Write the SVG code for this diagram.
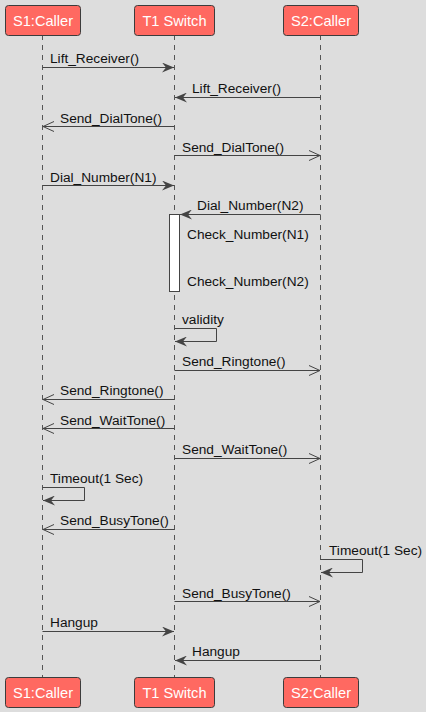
<svg xmlns="http://www.w3.org/2000/svg" width="426" height="712" viewBox="0 0 426 712">
<style>
.bg{fill:#dddddd}
.part rect{fill:#ff6961;stroke:#3c3c3c;stroke-width:1}
.part text{font-family:"Liberation Sans",Arial,sans-serif;font-size:14.6px;fill:#ffffff;text-anchor:middle}
.life{stroke:#555555;stroke-width:1;stroke-dasharray:5,5;fill:none}
.msg{stroke:#444444;stroke-width:1;fill:none}
.lbl{font-family:"Liberation Sans",Arial,sans-serif;font-size:13.7px;fill:#111111}
.act{fill:#ffffff;stroke:#444444;stroke-width:1}
</style>
<defs>
<marker id="af" viewBox="0 0 12 10" refX="12" refY="5" markerWidth="12" markerHeight="10" markerUnits="userSpaceOnUse" orient="auto">
<path d="M0,0 L12,5 L0,10 L4,5 Z" fill="#444444"/>
</marker>
<marker id="ao" viewBox="-1 -1 13 12" refX="11" refY="5" markerWidth="13" markerHeight="12" markerUnits="userSpaceOnUse" orient="auto">
<path d="M0,0 L11,5 L0,10" fill="none" stroke="#444444" stroke-width="1"/>
</marker>
</defs>
<rect class="bg" x="0" y="0" width="426" height="712"/>
<g id="lifelines">
<line class="life" x1="42.5" y1="35" x2="42.5" y2="677"/>
<line class="life" x1="174.5" y1="35" x2="174.5" y2="677"/>
<line class="life" x1="320.5" y1="35" x2="320.5" y2="677"/>
</g>
<g id="S1_top" class="part"><rect x="5.5" y="5.5" width="75" height="30" rx="3"/><text x="43" y="26">S1:Caller</text></g>
<g id="T1_top" class="part"><rect x="134.5" y="5.5" width="80" height="30" rx="3"/><text x="174.5" y="26">T1 Switch</text></g>
<g id="S2_top" class="part"><rect x="283.5" y="5.5" width="75" height="30" rx="3"/><text x="321" y="26">S2:Caller</text></g>
<g id="S1_bottom" class="part"><rect x="5.5" y="677.5" width="75" height="30" rx="3"/><text x="43" y="698">S1:Caller</text></g>
<g id="T1_bottom" class="part"><rect x="134.5" y="677.5" width="80" height="30" rx="3"/><text x="174.5" y="698">T1 Switch</text></g>
<g id="S2_bottom" class="part"><rect x="283.5" y="677.5" width="75" height="30" rx="3"/><text x="321" y="698">S2:Caller</text></g>
<g id="activation"><rect class="act" x="169.5" y="214.5" width="10" height="77"/></g>
<g id="connectors">
<path class="msg" d="M42.5,67.5 H174" marker-end="url(#af)"/>
<path class="msg" d="M320.5,97.5 H175" marker-end="url(#af)"/>
<path class="msg" d="M174.5,126.5 H43" marker-end="url(#ao)"/>
<path class="msg" d="M174.5,155.5 H320" marker-end="url(#ao)"/>
<path class="msg" d="M42.5,185.5 H174" marker-end="url(#af)"/>
<path class="msg" d="M320.5,214.5 H180" marker-end="url(#af)"/>
<path class="msg" d="M174.5,328.5 H216.5 V341.5 H175" marker-end="url(#af)"/>
<path class="msg" d="M174.5,370.5 H320" marker-end="url(#ao)"/>
<path class="msg" d="M174.5,399.5 H43" marker-end="url(#ao)"/>
<path class="msg" d="M174.5,428.5 H43" marker-end="url(#ao)"/>
<path class="msg" d="M174.5,458.5 H320" marker-end="url(#ao)"/>
<path class="msg" d="M42.5,487.5 H84.5 V500.5 H43" marker-end="url(#af)"/>
<path class="msg" d="M174.5,529.5 H43" marker-end="url(#ao)"/>
<path class="msg" d="M320.5,559.5 H362.5 V572.5 H321" marker-end="url(#af)"/>
<path class="msg" d="M174.5,601.5 H320" marker-end="url(#ao)"/>
<path class="msg" d="M42.5,631.5 H174" marker-end="url(#af)"/>
<path class="msg" d="M320.5,660.5 H175" marker-end="url(#af)"/>
</g>
<g id="labels" class="lbl">
<text class="lbl" x="50" y="63">Lift_Receiver()</text>
<text class="lbl" x="192" y="93">Lift_Receiver()</text>
<text class="lbl" x="60" y="122.5">Send_DialTone()</text>
<text class="lbl" x="182" y="151.5">Send_DialTone()</text>
<text class="lbl" x="50" y="181.5">Dial_Number(N1)</text>
<text class="lbl" x="197" y="210">Dial_Number(N2)</text>
<text class="lbl" x="187" y="239">Check_Number(N1)</text>
<text class="lbl" x="187" y="286">Check_Number(N2)</text>
<text class="lbl" x="182" y="324">validity</text>
<text class="lbl" x="182" y="366">Send_Ringtone()</text>
<text class="lbl" x="60" y="395">Send_Ringtone()</text>
<text class="lbl" x="60" y="424.5">Send_WaitTone()</text>
<text class="lbl" x="182" y="454">Send_WaitTone()</text>
<text class="lbl" x="50" y="483">Timeout(1 Sec)</text>
<text class="lbl" x="60" y="525">Send_BusyTone()</text>
<text class="lbl" x="329" y="555">Timeout(1 Sec)</text>
<text class="lbl" x="182" y="597.5">Send_BusyTone()</text>
<text class="lbl" x="50" y="627">Hangup</text>
<text class="lbl" x="192" y="656">Hangup</text>
</g>
</svg>
